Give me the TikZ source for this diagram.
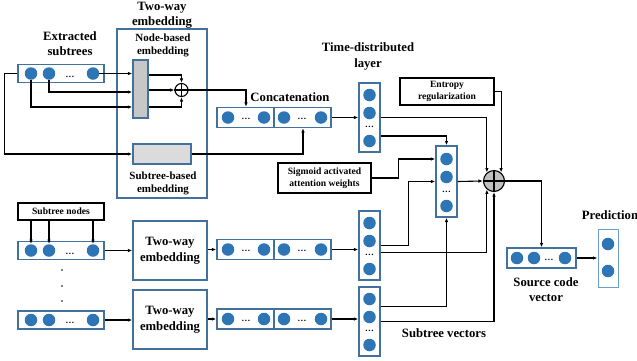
\documentclass[tikz,border=0pt]{standalone}
\usepackage{fontspec}
\setmainfont{Liberation Serif}
\usetikzlibrary{arrows.meta}
\definecolor{dotblue}{HTML}{2E75B6}
\definecolor{edgeblue}{HTML}{41719C}
\newcommand{\gapdots}{.\kern0.7pt.\kern0.7pt.}
\tikzset{
  vec/.style={draw=edgeblue, line width=1.3pt, inner sep=0pt, fill=white},
  unit/.style={circle, fill=dotblue, inner sep=0pt, minimum size=12.5pt},
  tag/.style={font=\bfseries\fontsize{12.7}{15.5}\selectfont, align=center},
  subtag/.style={font=\bfseries\fontsize{11}{13}\selectfont, align=center},
  note/.style={draw, line width=1.3pt, inner sep=0pt, font=\bfseries\fontsize{9.6}{12}\selectfont, align=center},
  more/.style={font=\bfseries\fontsize{9}{9}\selectfont, inner sep=0pt},
  flow/.style={line width=1.1pt, -{Latex[length=4.5pt,width=3.5pt]}},
  summer/.style={circle, draw, line width=1.1pt, inner sep=0pt},
}
\begin{document}
\begin{tikzpicture}[x=1pt,y=-1pt]
\useasboundingbox (0,0) rectangle (637,360);

\foreach \n/\y in {ext/73.5, rowb/250.5, rowc/320} {
  \node[vec, minimum width=86pt, minimum height=18pt] (\n) at (61,\y) {};
  \node[unit] (\n1) at (31,\y) {};
  \node[unit] (\n2) at (49,\y) {};
  \node[unit] (\n3) at (93,\y) {};
  \node[more] at (70,\y+3) {\gapdots};
}
\foreach \y in {270,286,301} \fill (62,\y) circle (0.9pt);

\node[vec, fill=none, minimum width=90pt, minimum height=169pt] (twe) at (162,113.5) {};
\node[vec, fill=black!22, minimum width=15pt, minimum height=58pt] (nb) at (140.5,89) {};
\node[vec, fill=black!14, minimum width=58pt, minimum height=20pt] (sb) at (162,154) {};
\node[summer, minimum size=13pt] (sum1) at (181.5,90) {};
\draw[line width=1.1pt] (sum1.north) -- (sum1.south) (sum1.west) -- (sum1.east);

\node[vec, tag, minimum width=74pt, minimum height=59pt] (twb) at (170,250.5) {Two-way\\embedding};
\node[vec, tag, minimum width=74pt, minimum height=59pt] (twc) at (170,319.5) {Two-way\\embedding};

\foreach \n/\y in {cat/117.5, catb/249.5, catc/319} {
  \node[vec, minimum width=114pt, minimum height=20pt] (\n) at (274,\y) {};
  \draw[edgeblue, line width=1.3pt] (\n.north) -- (\n.south);
  \foreach \x in {228,264,284,321} \node[unit] at (\x,\y) {};
  \foreach \x in {246,302} \node[more] at (\x,\y+1.5) {\gapdots};
}

\foreach \n/\y in {td/83, tdb/211, tdc/287} {
  \node[vec, minimum width=21pt, minimum height=69pt] (\n) at (369.5,\y+34.5) {};
  \node[unit] (\n1) at (369.5,\y+12) {};
  \node[unit] (\n2) at (369.5,\y+30) {};
  \node[unit] (\n3) at (369.5,\y+58) {};
  \node[more] at (369.5,\y+44) {\gapdots};
}

\node[vec, minimum width=21pt, minimum height=71pt] (att) at (446.5,181.5) {};
\node[unit] (att1) at (446.5,159) {};
\node[unit] (att2) at (446.5,177) {};
\node[unit] (att3) at (446.5,206) {};
\node[more] at (446.5,191.5) {\gapdots};

\node[summer, fill=black!25, minimum size=21pt] (sum2) at (494,181) {};
\draw[line width=1.1pt] (sum2.north) -- (sum2.south) (sum2.west) -- (sum2.east);

\node[vec, minimum width=69pt, minimum height=20pt] (src) at (541.5,258) {};
\foreach \x in {517,534,565} \node[unit] at (\x,258) {};
\node[more] at (549,260) {\gapdots};

\node[vec, draw=dotblue!70, line width=0.9pt, minimum width=20pt, minimum height=58pt] (pred) at (608,258) {};
\node[unit] (pred1) at (608,244) {};
\node[unit] (pred2) at (608,271) {};

\node[note, minimum width=94pt, minimum height=27pt] (ent) at (447,91.5) {Entropy\\regularization};
\node[note, minimum width=93pt, minimum height=30pt] (sig) at (324.5,178) {Sigmoid activated\\attention weights};
\node[note, minimum width=86pt, minimum height=17pt] (sn) at (61,211.5) {Subtree nodes};

\node[tag] (extlbl) at (70,43.5) {Extracted\\subtrees};
\node[tag] (twelbl) at (162,15) {Two-way\\embedding};
\node[subtag] (nblbl) at (163,45.5) {Node-based\\embedding};
\node[subtag] (sblbl) at (163,183.5) {Subtree-based\\embedding};
\node[tag] (catlbl) at (290,97) {Concatenation};
\node[tag] (tdlbl) at (368,56.5) {Time-distributed\\layer};
\node[tag] (srclbl) at (546,289.5) {Source code\\vector};
\node[tag] (predlbl) at (610,215) {Prediction};
\node[tag] (veclbl) at (444,333) {Subtree vectors};

\draw[flow] (ext3.east) -- (ext3.east -| nb.west);
\draw[flow] (ext2.south) |- ([yshift=-3pt]nb.west);
\draw[flow] (ext1.south) |- ([yshift=-18pt]nb.west);
\draw[flow] ([yshift=14pt]nb.east) -| (sum1.north);
\draw[flow] (nb.east |- sum1) -- (sum1.west);
\draw[flow] ([yshift=-18pt]nb.east) -| (sum1.south);
\draw[flow] (sum1.east) -| ([xshift=-28pt]cat.north);
\draw[flow] (ext.west) -- ++(-13,0) |- (sb.west);
\draw[flow] (sb.east) -| ([xshift=29pt]cat.south);
\draw[flow] (cat.east) -- (td.west);

\foreach \i in {1,2,3} \draw[flow] (sn.south -| rowb\i) -- (rowb\i.north);
\foreach \r/\t/\c/\d in {rowb/twb/catb/tdb, rowc/twc/catc/tdc} {
  \draw[flow] (\r.east) -- (\r.east -| \t.west);
  \draw[flow] (\t.east |- \c) -- (\c.west);
  \draw[flow] (\c.east) -- (\c.east -| \d.west);
}

\draw[flow] (td.east) -| (sum2.130);
\draw[flow] ([yshift=-18.5pt]td.east) -| (att.north);
\draw[flow] (ent.east) -| (sum2.50);
\draw[flow] (sig.east) -- ++(27,0) |- (att.west |- att1);
\draw[flow] (tdb.east) -- ++(28,0) |- (att.west);
\draw[flow] (att.east) -- (sum2.west);
\draw[flow] ([yshift=-7pt]tdb.east) -| (sum2.230);
\draw[flow] ([yshift=15pt]tdc.east) -| (att.south);
\draw[flow] (tdc.east) -| (sum2.south);
\draw[flow] (sum2.east) -| (src.north);
\draw[flow] (src.east) -- (pred.west);
\end{tikzpicture}
\end{document}
